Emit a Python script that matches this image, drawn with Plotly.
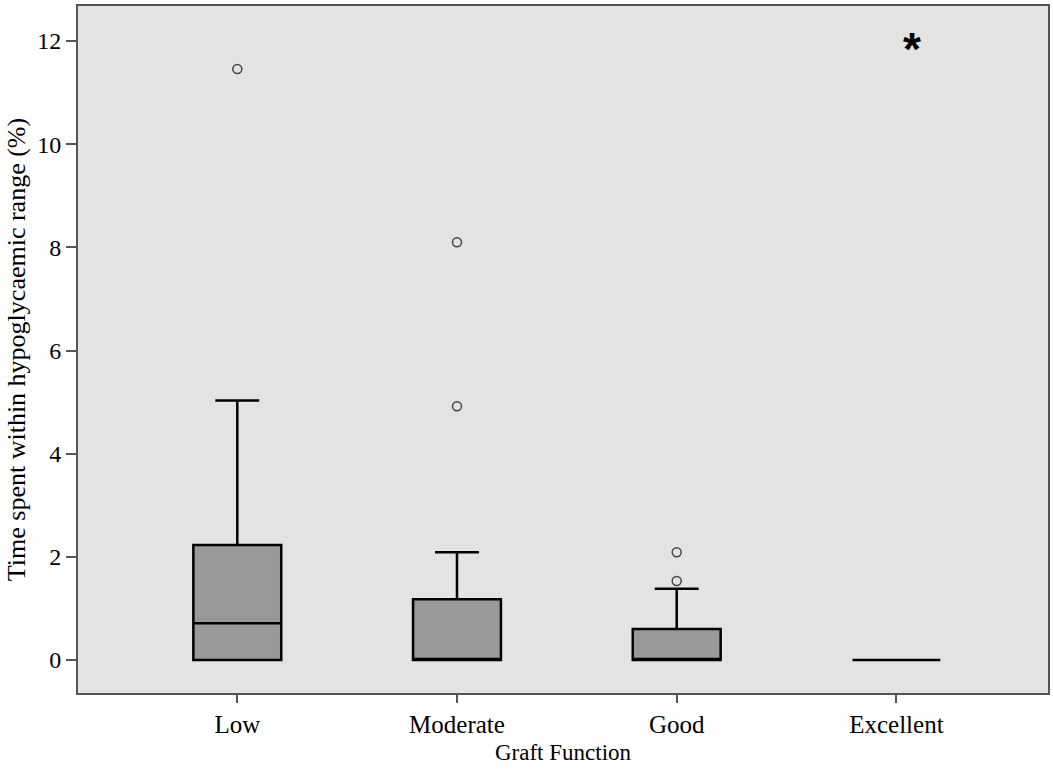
import plotly.graph_objects as go

categories = ["Low", "Moderate", "Good", "Excellent"]
q1 = [0, 0, 0, 0]
median = [0.71, 0, 0, 0]
q3 = [2.23, 1.18, 0.60, 0]
lower_fence = [0, 0, 0, 0]
upper_fence = [5.03, 2.09, 1.38, 0]

outlier_x = ["Low", "Moderate", "Moderate", "Good", "Good"]
outlier_y = [11.46, 8.10, 4.92, 1.53, 2.09]

extreme_x = ["Excellent"]
extreme_y = [11.95]

y_ticks = [0, 2, 4, 6, 8, 10, 12]

font_family = "Liberation Serif, Times New Roman, serif"

fig = go.Figure()
fig.add_trace(go.Box(
    x=categories, q1=q1, median=median, q3=q3,
    lowerfence=lower_fence, upperfence=upper_fence,
    fillcolor="#999999",
    line=dict(color="black", width=2.5),
    whiskerwidth=0.5, width=0.4,
    boxpoints=False, showlegend=False, hoverinfo="skip",
))
fig.add_trace(go.Scatter(
    x=outlier_x, y=outlier_y, mode="markers",
    marker=dict(symbol="circle-open", size=9, color="#444444", line=dict(width=1.5)),
    showlegend=False,
))
# extreme value drawn as an asterisk, slightly offset to the right as in the original
for xv, yv in zip(extreme_x, extreme_y):
    fig.add_annotation(
        x=xv, y=yv, text="<b>*</b>", showarrow=False, xshift=16, yshift=-5,
        font=dict(family="Liberation Sans, Arial, sans-serif", size=46, color="black"),
    )

fig.update_layout(
    width=1053, height=773,
    margin=dict(l=78, r=3, t=6, b=80),
    paper_bgcolor="white", plot_bgcolor="#e3e3e3",
    font=dict(family=font_family, size=22, color="black"),
    xaxis=dict(
        range=[-0.725, 3.69], showgrid=False, zeroline=False,
        showline=True, linecolor="#555555", linewidth=2, mirror=True,
        ticks="outside", ticklen=8, tickwidth=2, tickcolor="#555555",
        tickfont=dict(size=25),
        title=dict(text="Graft Function", font=dict(size=23), standoff=7),
    ),
    yaxis=dict(
        range=[-0.64, 12.68], showgrid=False, zeroline=False,
        tickvals=y_ticks,
        showline=True, linecolor="#555555", linewidth=2, mirror=True,
        ticks="outside", ticklen=10, tickwidth=2, tickcolor="#555555",
        tickfont=dict(size=24),
        title=dict(text="Time spent within hypoglycaemic range (%)", font=dict(size=26), standoff=4),
    ),
)

fig.write_html("out.html")
